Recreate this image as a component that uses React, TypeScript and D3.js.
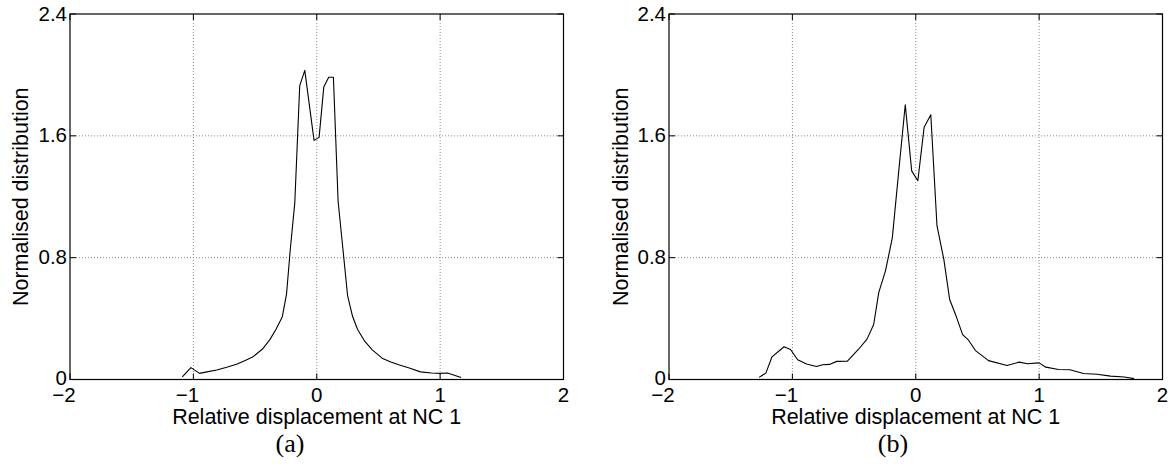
import React from "react";
import * as d3 from "d3";

const xTicks = [-2, -1, 0, 1, 2];
const yTicks = [0, 0.8, 1.6, 2.4];
const yTickLabels = ["0", "0.8", "1.6", "2.4"];
const xLabel = "Relative displacement at NC 1";
const yLabel = "Normalised distribution";

const aX = [-1.09, -1.02, -0.95, -0.89, -0.81, -0.73, -0.65, -0.58, -0.52, -0.44, -0.38, -0.33, -0.28, -0.245, -0.215, -0.178, -0.138, -0.097, -0.022, 0.019, 0.057, 0.097, 0.135, 0.173, 0.213, 0.25, 0.29, 0.33, 0.39, 0.45, 0.53, 0.6, 0.67, 0.75, 0.84, 0.93, 1.0, 1.06, 1.17];
const aY = [0.017, 0.078, 0.04, 0.05, 0.062, 0.08, 0.1, 0.125, 0.147, 0.2, 0.262, 0.33, 0.41, 0.56, 0.85, 1.16, 1.93, 2.03, 1.57, 1.59, 1.92, 1.985, 1.985, 1.17, 0.85, 0.55, 0.415, 0.33, 0.25, 0.195, 0.14, 0.115, 0.095, 0.075, 0.05, 0.043, 0.04, 0.043, 0.013];

const bX = [-1.27, -1.215, -1.165, -1.068, -1.015, -0.957, -0.885, -0.805, -0.755, -0.7, -0.64, -0.554, -0.465, -0.395, -0.341, -0.3, -0.245, -0.19, -0.14, -0.085, -0.033, 0.017, 0.068, 0.122, 0.172, 0.228, 0.275, 0.33, 0.38, 0.428, 0.484, 0.59, 0.74, 0.838, 0.905, 1.0, 1.054, 1.158, 1.25, 1.36, 1.468, 1.58, 1.69, 1.77];
const bY = [0.014, 0.042, 0.149, 0.215, 0.197, 0.13, 0.102, 0.085, 0.097, 0.099, 0.119, 0.12, 0.197, 0.265, 0.361, 0.57, 0.715, 0.93, 1.35, 1.804, 1.37, 1.305, 1.657, 1.738, 1.01, 0.787, 0.525, 0.41, 0.295, 0.258, 0.19, 0.124, 0.092, 0.114, 0.103, 0.109, 0.081, 0.066, 0.064, 0.039, 0.034, 0.022, 0.016, 0.006];

const SANS = "'Liberation Sans', Arial, Helvetica, sans-serif";
const SERIF = "'Liberation Serif', 'DejaVu Serif', serif";
const FS = 20.5;

type PanelProps = {
  left: number;
  right: number;
  xs: number[];
  ys: number[];
  caption: string;
  captionX: number;
  yLabelX: number;
};

function Panel({ left, right, xs, ys, caption, captionX, yLabelX }: PanelProps) {
  const top = 14;
  const bottom = 379.5;
  const x = d3.scaleLinear().domain([-2, 2]).range([left, right]);
  const y = d3.scaleLinear().domain([0, 2.4]).range([bottom, top]);
  const pts: [number, number][] = xs.map((v, i) => [v, ys[i]]);
  const line = d3
    .line<[number, number]>()
    .x((d) => x(d[0]))
    .y((d) => y(d[1]));
  const tickLen = 6;
  const digitHalf = FS * 0.278;
  return (
    <g>
      {xTicks.slice(1, -1).map((t) => (
        <line key={"gx" + t} x1={x(t)} x2={x(t)} y1={top} y2={bottom} stroke="#8a8a8a" strokeWidth={1} strokeDasharray="1,2" />
      ))}
      {yTicks.slice(1, -1).map((t) => (
        <line key={"gy" + t} x1={left} x2={right} y1={y(t)} y2={y(t)} stroke="#8a8a8a" strokeWidth={1} strokeDasharray="1,2" />
      ))}
      {xTicks.map((t) => (
        <g key={"tx" + t}>
          <line x1={x(t)} x2={x(t)} y1={bottom} y2={bottom - tickLen} stroke="#000" />
          <line x1={x(t)} x2={x(t)} y1={top} y2={top + tickLen} stroke="#000" />
        </g>
      ))}
      {yTicks.map((t) => (
        <g key={"ty" + t}>
          <line x1={left} x2={left + tickLen} y1={y(t)} y2={y(t)} stroke="#000" />
          <line x1={right} x2={right - tickLen} y1={y(t)} y2={y(t)} stroke="#000" />
        </g>
      ))}
      <path d={line(pts) || ""} fill="none" stroke="#000" strokeWidth={1.1} strokeLinejoin="round" />
      <rect x={left} y={top} width={right - left} height={bottom - top} fill="none" stroke="#000" strokeWidth={1.2} />
      {yTicks.map((t, i) => (
        <text key={"ly" + t} x={left - 3} y={y(t) + (t === 0 ? 5 : 6.5)} textAnchor="end" fontFamily={SANS} fontSize={FS} fill="#000">
          {yTickLabels[i]}
        </text>
      ))}
      {xTicks.map((t) => (
        <g key={"lx" + t}>
          <text x={x(t)} y={401.5} textAnchor="middle" fontFamily={SANS} fontSize={FS} fill="#000">
            {String(Math.abs(t))}
          </text>
          {t < 0 && (
            <text x={x(t) - digitHalf} y={401.5} textAnchor="end" fontFamily={SANS} fontSize={FS} fill="#000">
              {"\u2212"}
            </text>
          )}
        </g>
      ))}
      <text x={(left + right) / 2} y={424} textAnchor="middle" fontFamily={SANS} fontSize={21.5} fill="#000">
        {xLabel}
      </text>
      <text
        transform={`translate(${yLabelX},${(top + bottom) / 2}) rotate(-90)`}
        textAnchor="middle"
        fontFamily={SANS}
        fontSize={21.5}
        fill="#000"
      >
        {yLabel}
      </text>
      <text x={captionX} y={452} textAnchor="middle" fontFamily={SERIF} fontSize={26} fill="#000">
        {caption}
      </text>
    </g>
  );
}

export default function App() {
  return (
    <svg
      width={1173}
      height={475}
      style={{ position: "absolute", left: 0, top: 0, background: "#fff" }}
      xmlns="http://www.w3.org/2000/svg"
    >
      <rect x={0} y={0} width={1173} height={475} fill="#fff" />
      <Panel left={70} right={563.5} xs={aX} ys={aY} caption="(a)" captionX={290} yLabelX={28} />
      <Panel left={669} right={1162.5} xs={bX} ys={bY} caption="(b)" captionX={893} yLabelX={628} />
    </svg>
  );
}
